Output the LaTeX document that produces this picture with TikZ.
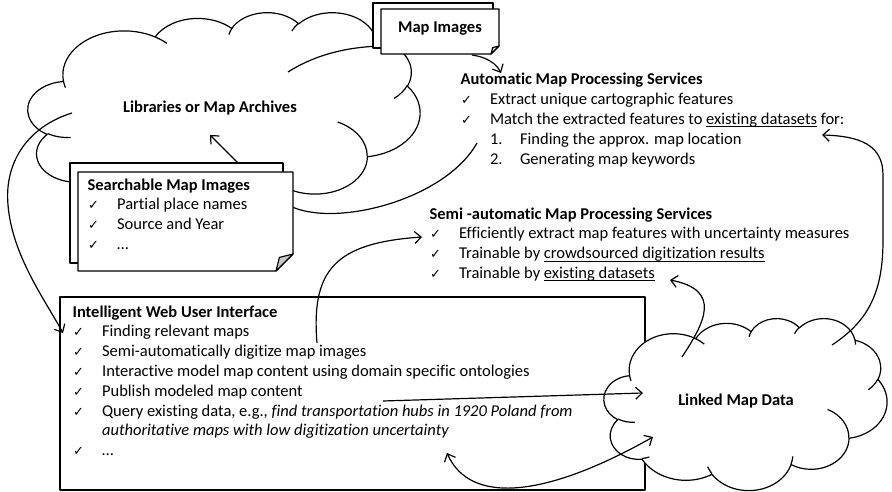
\documentclass[tikz,border=0pt]{standalone}
\usepackage{fontspec}
\setmainfont{Carlito}[Ligatures=NoCommon]
\newfontfamily\symf{DejaVu Sans}
\usetikzlibrary{arrows.meta}

\newcommand\chk{{\symf\fontsize{13}{13}\selectfont ✓}}
\newcommand\ci{\makebox[29.5pt][l]{\hspace{0.5pt}\chk}}
\newsavebox\ulbox
\newcommand\ul[1]{\sbox\ulbox{#1}\rlap{\rule[-2.8pt]{\wd\ulbox}{0.9pt}}\usebox\ulbox}
\newcommand\blk[1]{\vtop{\baselineskip=19.8pt\lineskiplimit=-100pt\lineskip=0pt\halign{##\hfil\cr#1\crcr}}}
\newcommand\mainfs{\fontsize{16.5}{19.8}\selectfont}

\newcommand\cldarc[4]{%
  \pgfmathsetmacro\cTs{atan2((#1)*sin(#3),(#2)*cos(#3))}%
  \pgfmathsetmacro\cTe{atan2((#1)*sin((#3)+(#4)),(#2)*cos((#3)+(#4)))}%
  \pgfmathsetmacro\cTe{(\cTs)+mod((\cTe)-(\cTs)+720,360)}%
  \pgfpatharcaxes{\cTs}{\cTe}{\pgfpointxy{#1}{0}}{\pgfpointxy{0}{#2}}%
}
\newcommand\officecloud[4]{%
  \pgfmathsetmacro\cSx{(#3)/432}\pgfmathsetmacro\cSy{(#4)/432}%
  \begin{scope}[shift={(#1,#2)},x=\cSx pt,y=-\cSy pt]
  \pgfpathmoveto{\pgfpointxy{39}{143.70}}%
  \cldarc{67.53}{91.90}{-190.4875}{123.7805}%
  \cldarc{53.33}{72.67}{-144.1024}{89.9452}%
  \cldarc{43.65}{59.45}{-145.8079}{99.7230}%
  \cldarc{48.57}{65.95}{-130.9861}{117.2417}%
  \cldarc{53.33}{72.73}{-78.7089}{109.0269}%
  \cldarc{67.75}{92.20}{-46.2673}{130.2690}%
  \cldarc{57.85}{78.67}{0.6250}{114.0333}%
  \cldarc{67.52}{92.15}{22.4516}{115.1726}%
  \cldarc{77.20}{105.43}{66.2426}{75.7110}%
  \cldarc{43.60}{59.18}{-274.9421}{146.7356}%
  \cldarc{43.45}{59.45}{-246.8285}{152.5189}%
  \pgfpathclose
  \pgfsetfillcolor{white}%
  \pgfusepath{fill,stroke}%
  \pgfpathmoveto{\pgfpointxy{46.93}{261.77}}\cldarc{43.45}{59.45}{86.7420}{26.4295}%
  \pgfpathmoveto{\pgfpointxy{69.28}{348.99}}\cldarc{43.60}{59.18}{73.6105}{11.4475}%
  \pgfpathmoveto{\pgfpointxy{164.78}{390.90}}\cldarc{67.52}{92.15}{137.6242}{14.0811}%
  \pgfpathmoveto{\pgfpointxy{288.27}{347.51}}\cldarc{67.52}{92.15}{6.4533}{15.9984}%
  \pgfpathmoveto{\pgfpointxy{341.29}{229.54}}\cldarc{57.85}{78.67}{-70.2924}{70.9174}%
  \pgfpathmoveto{\pgfpointxy{417.98}{153.54}}\cldarc{53.33}{72.73}{30.3180}{27.7515}%
  \pgfpathmoveto{\pgfpointxy{383.24}{54.26}}\cldarc{48.57}{65.95}{-13.7443}{14.8589}%
  \pgfpathmoveto{\pgfpointxy{290.78}{39.52}}\cldarc{48.57}{65.95}{-149.1815}{18.1954}%
  \pgfpathmoveto{\pgfpointxy{221.41}{47.20}}\cldarc{43.65}{59.45}{-163.4943}{17.6864}%
  \pgfpathmoveto{\pgfpointxy{140.00}{51.92}}\cldarc{67.53}{91.90}{-66.7070}{12.3194}%
  \pgfpathmoveto{\pgfpointxy{41.27}{157.89}}\cldarc{67.53}{91.90}{157.6544}{11.8582}%
  \pgfusepath{stroke}%
  \end{scope}}

\tikzset{
  arr/.style={-{Straight Barb[length=6.5pt,width=12pt]}},
  dblarr/.style={{Straight Barb[length=6.5pt,width=12pt]}-{Straight Barb[length=6.5pt,width=12pt]}},
  txt/.style={anchor=base west,inner sep=0pt},
  lbl/.style={anchor=base,inner sep=0pt,font=\mainfs\bfseries},
  boxline/.style={draw=black,line width=1.2pt,fill=white},
  fold/.style={draw=black,line width=1.2pt,fill=black!22},
}

\begin{document}
\begin{tikzpicture}[x=1pt,y=-1pt,line width=1.2pt,line join=round,font=\mainfs]
\useasboundingbox[fill=white] (0,0) rectangle (892,492);

% Web user interface box
\draw[boxline] (60,297) rectangle (645,490);

% clouds
\officecloud{28}{12}{392}{207}
\officecloud{604}{318}{283}{172}

% labels and text blocks
\node[lbl] (libs) at (210,113) {Libraries or Map Archives};
\node[lbl] (linked) at (736,405) {Linked Map Data};

\node[txt] (auto) at (460,85) {\blk{\textbf{Automatic Map Processing Services}\cr
\ci Extract unique cartographic features\cr
\ci Match the extracted features to \ul{existing datasets} for:\cr
\hspace*{29.5pt}\makebox[30pt][l]{1.}Finding the approx. map location\cr
\hspace*{29.5pt}\makebox[30pt][l]{2.}Generating map keywords}};

\node[txt] (semi) at (429,219) {\blk{\textbf{Semi -automatic Map Processing Services}\cr
\ci Efficiently extract map features with uncertainty measures\cr
\ci Trainable by \ul{crowdsourced digitization results}\cr
\ci Trainable by \ul{existing datasets}}};

\node[txt] (webui) at (72,317) {\blk{\textbf{Intelligent Web User Interface}\cr
\ci Finding relevant maps\cr
\ci Semi-automatically digitize map images\cr
\ci Interactive model map content using domain specific ontologies\cr
\ci Publish modeled map content\cr
\ci Query existing data, e.g., \textit{find transportation hubs in 1920 Poland from}\cr
\hspace*{29.5pt}\textit{authoritative maps with low digitization uncertainty}\cr
\ci …}};

% connector end points
\coordinate (srchtop) at (238,163);
\coordinate (libsin) at (210,135);
\coordinate (mapbot) at (472,55);
\coordinate (autotop) at (501,73);
\coordinate (libsr) at (288,72);
\coordinate (mapleft) at (382,46);
\coordinate (autoleft) at (477,143);
\coordinate (srchright) at (290,206);
\coordinate (libsl) at (72,113);
\coordinate (webtop) at (63,333);
\coordinate (webin) at (317,343);
\coordinate (semiin) at (422,237);
\coordinate (lk1) at (682,357);
\coordinate (semids) at (670,280);
\coordinate (lk2) at (832,345);
\coordinate (autods) at (822,135);
\coordinate (webq) at (383,401);
\coordinate (lk3) at (643,393);
\coordinate (webu) at (447,453);
\coordinate (lk4) at (653,437);

% connectors
\draw[arr] (srchtop) -- (libsin);
\draw[arr] (mapbot) .. controls (486,57) and (496,63) .. (autotop);
\draw (libsr) .. controls (310,58) and (340,47) .. (mapleft);
\draw (autoleft) .. controls (445,200) and (335,228) .. (srchright);
\draw[arr] (libsl) .. controls (30,126) and (4,160) .. (8,205) .. controls (12,255) and (45,300) .. (webtop);
\draw[arr] (webin) .. controls (311,270) and (335,243) .. (semiin);
\draw[arr] (lk1) .. controls (705,322) and (722,290) .. (semids);
\draw[arr] (lk2) .. controls (870,320) and (883,290) .. (883,240) -- (883,175) .. controls (883,145) and (860,136) .. (autods);
\draw[arr] (webq) -- (lk3);
\draw[dblarr] (webu) .. controls (470,505) and (545,498) .. (lk4);

% Searchable map images (stacked documents)
\draw[boxline] (70,163) rectangle (283,263);
\draw[boxline] (78,172) -- (293,172) -- (293,254) -- (276,271) -- (78,271) -- cycle;
\draw[fold] (276,271) -- (279.4,257.4) -- (293,254) -- cycle;
\node[txt] (search) at (87,190) {\blk{\textbf{Searchable Map Images}\cr
\ci Partial place names\cr
\ci Source and Year\cr
\ci …}};

% Map images (stacked documents)
\draw[boxline] (373,3) rectangle (493,48);
\draw[boxline] (381,9) -- (499,9) -- (499,46) -- (491,54) -- (381,54) -- cycle;
\draw[fold] (491,54) -- (492.6,47.6) -- (499,46) -- cycle;
\node[lbl] (mapimg) at (440,33) {Map Images};
\end{tikzpicture}
\end{document}
